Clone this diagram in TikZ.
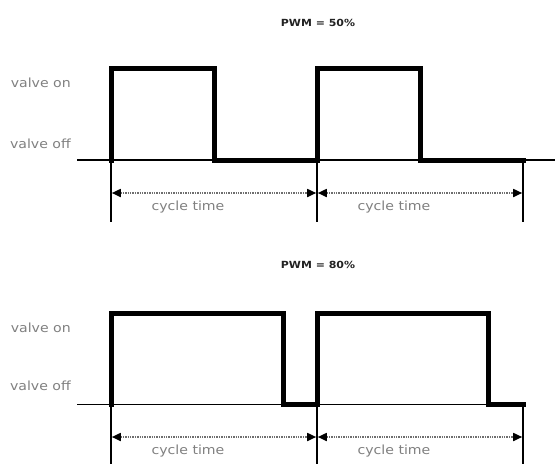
\documentclass[tikz,border=0pt]{standalone}
\usepackage{fontspec}
\usetikzlibrary{arrows.meta}
\newfontfamily\lblfont[FakeStretch=1.12]{DejaVu Sans}
\definecolor{lblgray}{HTML}{808080}
\definecolor{dotgray}{HTML}{6E6E6E}
\definecolor{titlegray}{HTML}{222222}
\tikzset{
  wave/.style={line width=5pt, line join=miter, line cap=rect},
  axis/.style={line width=1.4pt},
  tick/.style={line width=1.6pt},
  cyc/.style={dotgray, line width=1.7pt, dash pattern=on 1.5pt off 0.9pt,
    {Triangle[length=9pt,width=8pt,color=black]}-{Triangle[length=9pt,width=8pt,color=black]}},
  lbl/.style={font=\lblfont\fontsize{12.6}{14}\selectfont, text=lblgray, inner sep=0pt},
  ttl/.style={font=\lblfont\bfseries\fontsize{9.8}{11}\selectfont, text=titlegray, inner sep=0pt}
}
\begin{document}
\begin{tikzpicture}[x=1pt,y=-1pt]
\useasboundingbox (0,0) rectangle (555,464);
% ---------- top: PWM = 50% ----------
\node[ttl, anchor=base] (t1) at (318,26.6) {PWM = 50\%};
\node[lbl, anchor=base east] (on1) at (71,87) {valve on};
\node[lbl, anchor=base east] (off1) at (71,148) {valve off};
\coordinate (a0) at (77,160);
\coordinate (aE) at (555,160);
\draw[axis] (a0) -- (aE);
\coordinate (p1) at (111,160);
\coordinate (p2) at (214,160);
\coordinate (p3) at (317,160);
\coordinate (p4) at (420,160);
\coordinate (p5) at (523,160);
\draw[wave] (p1) -- (111,68) -- (214,68) -- (p2) -- (p3) -- (317,68) -- (420,68) -- (p4) -- (p5);
\coordinate (b1) at (111,222);
\coordinate (b3) at (317,222);
\coordinate (b5) at (523,222);
\draw[tick] (p1) -- (b1);
\draw[tick] (p3) -- (b3);
\draw[tick] (p5) -- (b5);
\coordinate (c1) at (111.8,193);
\coordinate (c2) at (316.2,193);
\coordinate (c3) at (317.8,193);
\coordinate (c4) at (522.2,193);
\draw[cyc] (c1) -- (c2);
\draw[cyc] (c3) -- (c4);
\node[lbl, anchor=base] (ct1) at (188,210.5) {cycle time};
\node[lbl, anchor=base] (ct2) at (394,210.5) {cycle time};
% ---------- bottom: PWM = 80% ----------
\node[ttl, anchor=base] (t2) at (318,268.6) {PWM = 80\%};
\node[lbl, anchor=base east] (on2) at (71,332) {valve on};
\node[lbl, anchor=base east] (off2) at (71,390) {valve off};
\coordinate (d0) at (77,404.5);
\coordinate (q1) at (111,404.5);
\coordinate (q2) at (283,404.5);
\coordinate (q3) at (317,404.5);
\coordinate (q4) at (488,404.5);
\coordinate (q5) at (523,404.5);
\draw[axis] (d0) -- (q5);
\draw[wave] (q1) -- (111,313) -- (283,313) -- (q2) -- (q3) -- (317,313) -- (488,313) -- (q4) -- (q5);
\coordinate (e1) at (111,464);
\coordinate (e3) at (317,464);
\coordinate (e5) at (523,464);
\draw[tick] (q1) -- (e1);
\draw[tick] (q3) -- (e3);
\draw[tick] (q5) -- (e5);
\coordinate (f1) at (111.8,437);
\coordinate (f2) at (316.2,437);
\coordinate (f3) at (317.8,437);
\coordinate (f4) at (522.2,437);
\draw[cyc] (f1) -- (f2);
\draw[cyc] (f3) -- (f4);
\node[lbl, anchor=base] (ct3) at (188,454.5) {cycle time};
\node[lbl, anchor=base] (ct4) at (394,454.5) {cycle time};
\end{tikzpicture}
\end{document}
